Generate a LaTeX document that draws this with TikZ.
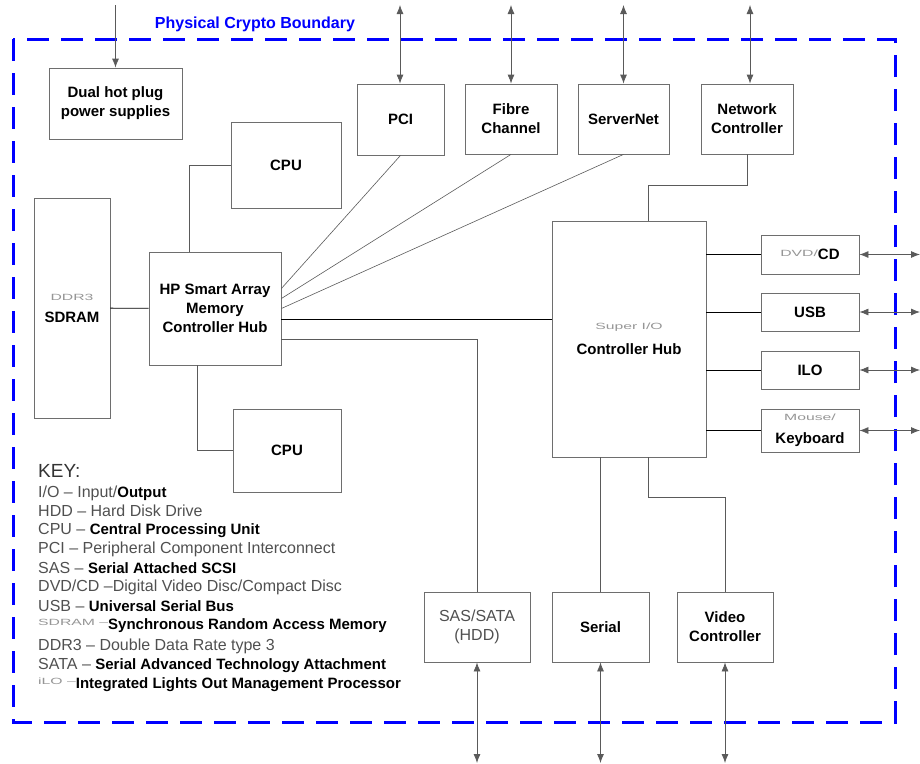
\documentclass[tikz,border=0pt]{standalone}
\usepackage{graphicx}
\usepackage{fontspec}
\setmainfont{Liberation Sans}
\usetikzlibrary{arrows.meta,calc}
\definecolor{cryptoblue}{RGB}{0,0,255}
\definecolor{boxgrey}{RGB}{110,110,110}
\definecolor{wiregrey}{RGB}{90,90,90}
\definecolor{keygrey}{RGB}{80,80,80}
\definecolor{fadegrey}{RGB}{150,150,150}
\newcommand{\tinylabel}[1]{{\fontsize{9}{10}\selectfont\mdseries\color{fadegrey}\scalebox{1.75}[1]{#1}}}
\newcommand{\keybold}[1]{{\fontsize{15}{18}\selectfont\bfseries\color{black}#1}}
\tikzset{
  unit/.style={draw=boxgrey,line width=0.8pt,inner sep=0pt,align=center,font=\fontsize{15}{19}\selectfont\bfseries},
  link/.style={black,line width=0.8pt},
  glink/.style={wiregrey,line width=0.6pt},
  io/.style={wiregrey,line width=0.8pt,{Latex[length=9pt,width=7pt]}-{Latex[length=9pt,width=7pt]}},
  feed/.style={wiregrey,line width=0.8pt,-{Latex[length=9pt,width=7pt]}},
  keyline/.style={anchor=west,inner sep=0pt,font=\fontsize{16}{19}\selectfont,text=keygrey}
}

\begin{document}
\begin{tikzpicture}[x=1pt,y=-1pt]
  \useasboundingbox (0,0) rectangle (920,763);
  \coordinate (top) at (0,5);
  \coordinate (floor) at (0,763);
  \coordinate (rim) at (920,0);

  % boundary
  \draw[cryptoblue,line width=3pt,dash pattern=on 22pt off 12pt] (13,39) rectangle (895,722);
  \node[font=\fontsize{16}{18}\selectfont\bfseries,text=cryptoblue] (title) at (255,24) {Physical Crypto Boundary};

  % units
  \node[unit,minimum width=133pt,minimum height=71pt] (dual) at (115.5,103.5) {Dual hot plug\\power supplies};
  \node[unit,minimum width=87pt,minimum height=71pt] (pci) at (400.5,119.5) {PCI};
  \node[unit,minimum width=92pt,minimum height=70pt] (fibre) at (511,119) {Fibre\\Channel};
  \node[unit,minimum width=91pt,minimum height=70pt] (snet) at (623.5,119) {ServerNet};
  \node[unit,minimum width=92pt,minimum height=70pt] (net) at (747,119) {Network\\Controller};
  \node[unit,minimum width=110pt,minimum height=86pt] (cpuA) at (286,165) {CPU};
  \node[unit,minimum width=76pt,minimum height=220pt] (sdram) at (72,308) {\tinylabel{DDR3}\\[3pt]SDRAM};
  \node[unit,minimum width=132pt,minimum height=113pt] (hub) at (215,308.5) {HP Smart Array\\Memory\\Controller Hub};
  \node[unit,minimum width=108pt,minimum height=83pt] (cpuB) at (287,450.5) {CPU};
  \node[unit,minimum width=154pt,minimum height=236pt] (sio) at (629,339) {\tinylabel{Super I/O}\\[6pt]Controller Hub};
  \node[unit,minimum width=98pt,minimum height=39pt] (dvd) at (810,254.5) {\raisebox{3pt}{\tinylabel{DVD/}}CD};
  \node[unit,minimum width=98pt,minimum height=38pt] (usb) at (810,312) {USB};
  \node[unit,minimum width=98pt,minimum height=38pt] (ilo) at (810,370) {ILO};
  \node[unit,minimum width=98pt,minimum height=43pt] (kbd) at (810,430.5) {\tinylabel{Mouse/}\\[4pt]Keyboard};
  \node[unit,minimum width=106pt,minimum height=70pt,font=\fontsize{16}{19}\selectfont,text=keygrey] (sas) at (477,627) {SAS/SATA\\(HDD)};
  \node[unit,minimum width=97pt,minimum height=70pt] (serial) at (600.5,627) {Serial};
  \node[unit,minimum width=96pt,minimum height=70pt] (video) at (725,627) {Video\\Controller};

  % internal links
  \draw[link] (sdram) -- (hub);
  \draw[glink] (cpuA.west) -| ([xshift=41pt]hub.north west);
  \draw[glink] (cpuB.west) -| ([xshift=49pt]hub.south west);
  \draw[glink] ([yshift=20pt]hub.east) -- (pci.south);
  \draw[glink] ([yshift=10pt]hub.east) -- (fibre.south);
  \draw[glink] (hub.east) -- (snet.south);
  \draw[link] ([yshift=-11pt]hub.east) -- ([yshift=-11pt]hub.east -| sio.west);
  \draw[glink] ([yshift=-31pt]hub.east) -| (sas.north);
  \draw[glink] (net.south) -- ++(0,31) -| ([xshift=97pt]sio.north west);
  \draw[link] (dvd.west -| sio.east) -- (dvd.west);
  \draw[link] (usb.west -| sio.east) -- (usb.west);
  \draw[link] (ilo.west -| sio.east) -- (ilo.west);
  \draw[link] (kbd.west -| sio.east) -- (kbd.west);
  \draw[glink] (serial.north |- sio.south) -- (serial.north);
  \draw[glink] ([xshift=97pt]sio.south west) -- ++(0,40) -| (video.north);

  % external ports
  \draw[feed] (dual.north |- top) -- (dual.north);
  \draw[io] ([xshift=-0.5pt]pci.north |- top) -- ([xshift=-0.5pt]pci.north);
  \draw[io] (fibre.north |- top) -- (fibre.north);
  \draw[io] (snet.north |- top) -- (snet.north);
  \draw[io] ([xshift=3pt]net.north |- top) -- ([xshift=3pt]net.north);
  \draw[io] (dvd.east) -- (dvd.east -| rim);
  \draw[io] (usb.east) -- (usb.east -| rim);
  \draw[io] (ilo.east) -- (ilo.east -| rim);
  \draw[io] (kbd.east) -- (kbd.east -| rim);
  \draw[io] (sas.south) -- (sas.south |- floor);
  \draw[io] (serial.south) -- (serial.south |- floor);
  \draw[io] (video.south) -- (video.south |- floor);

  % key
  \node[keyline,font=\fontsize{19}{22}\selectfont,text=black!80] (keyhead) at (38,471) {KEY:};
  \node[keyline] (k1) at (38,493) {I/O -- Input/\keybold{Output}};
  \node[keyline] (k2) at (38,511) {HDD -- Hard Disk Drive};
  \node[keyline] (k3) at (38,530) {CPU -- \keybold{Central Processing Unit}};
  \node[keyline] (k4) at (38,549) {PCI -- Peripheral Component Interconnect};
  \node[keyline] (k5) at (38,568) {SAS -- \keybold{Serial Attached SCSI}};
  \node[keyline] (k6) at (38,587) {DVD/CD --Digital Video Disc/Compact Disc};
  \node[keyline] (k7) at (38,606) {USB -- \keybold{Universal Serial Bus}};
  \node[keyline] (k8) at (38,626) {\raisebox{4pt}{\tinylabel{SDRAM --}}\keybold{Synchronous Random Access Memory}};
  \node[keyline] (k9) at (38,646) {DDR3 -- Double Data Rate type 3};
  \node[keyline] (k10) at (38,665) {SATA -- \keybold{Serial Advanced Technology Attachment}};
  \node[keyline] (k11) at (38,685) {\raisebox{4pt}{\tinylabel{iLO --}}\keybold{Integrated Lights Out Management Processor}};
\end{tikzpicture}
\end{document}
